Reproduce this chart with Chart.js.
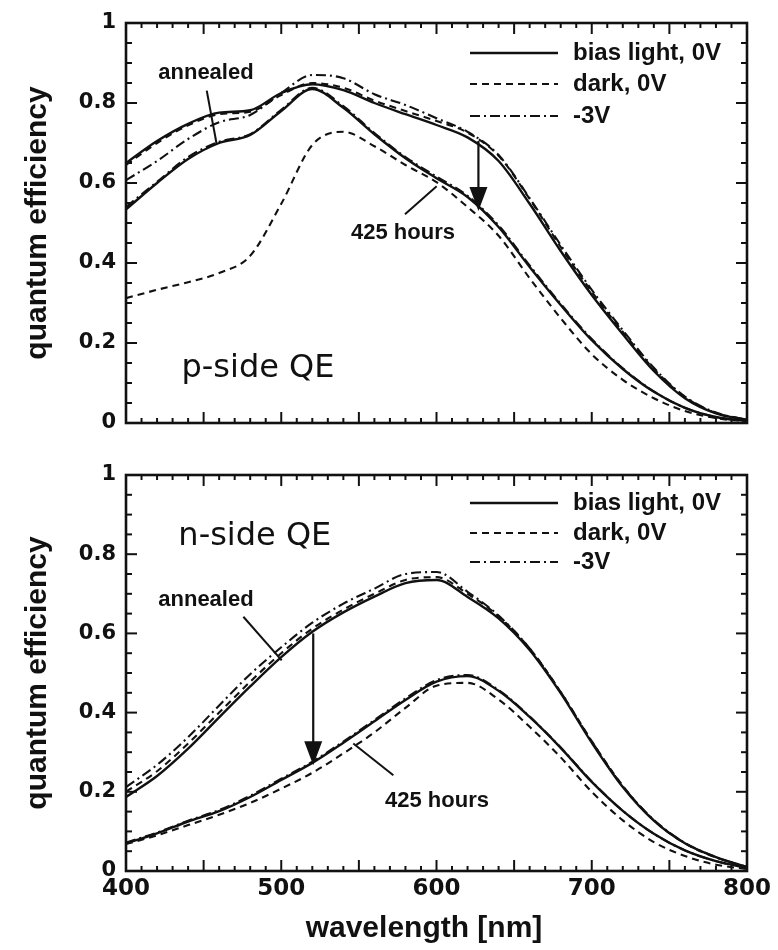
<!DOCTYPE html>
<html>
<head>
<meta charset="utf-8">
<script src="https://cdn.jsdelivr.net/npm/chart.js@4.4.0/dist/chart.umd.min.js"></script>
<style>
  html, body { margin: 0; padding: 0; background: #fff; }
  #wrap { position: relative; width: 778px; height: 950px; }
  .panel { position: absolute; left: 0; width: 778px; }
  #top { top: 0; height: 450px; }
  #bot { top: 450px; height: 500px; }
</style>
</head>
<body>
<div id="wrap">
  <div class="panel" id="top"><canvas id="pside"></canvas></div>
  <div class="panel" id="bot"><canvas id="nside"></canvas></div>
</div>
<script>
// wavelength grid (nm)
const wavelengths = [400, 420, 440, 460, 480, 500, 520, 540, 560, 580, 600,
                     620, 640, 660, 680, 700, 720, 740, 760, 780, 800];
const xTicks = [400, 500, 600, 700, 800];
const yTicks = [0, 0.2, 0.4, 0.6, 0.8, 1];

// p-side QE, annealed
const pAnnealedBias = [0.650, 0.705, 0.748, 0.776, 0.782, 0.825, 0.847, 0.832, 0.800, 0.772, 0.745,
                       0.714, 0.655, 0.548, 0.430, 0.320, 0.222, 0.130, 0.062, 0.024, 0.008];
const pAnnealedDark = [0.645, 0.700, 0.744, 0.772, 0.778, 0.820, 0.850, 0.838, 0.806, 0.780, 0.755,
                       0.726, 0.668, 0.560, 0.440, 0.328, 0.228, 0.135, 0.065, 0.025, 0.008];
const pAnnealedRev = [0.607, 0.655, 0.710, 0.752, 0.770, 0.825, 0.870, 0.862, 0.822, 0.795, 0.762,
                      0.728, 0.670, 0.562, 0.445, 0.333, 0.232, 0.138, 0.066, 0.026, 0.008];
// p-side QE, after 425 hours
const pAgedBias = [0.534, 0.600, 0.660, 0.700, 0.720, 0.780, 0.835, 0.788, 0.722, 0.662, 0.612,
                   0.565, 0.490, 0.390, 0.295, 0.207, 0.135, 0.078, 0.038, 0.015, 0.005];
const pAgedDark = [0.312, 0.333, 0.352, 0.375, 0.418, 0.548, 0.695, 0.728, 0.692, 0.645, 0.602,
                   0.540, 0.468, 0.362, 0.262, 0.172, 0.108, 0.062, 0.030, 0.012, 0.004];
const pAgedRev = [0.540, 0.603, 0.665, 0.703, 0.722, 0.783, 0.838, 0.792, 0.725, 0.665, 0.616,
                  0.568, 0.494, 0.394, 0.298, 0.210, 0.137, 0.079, 0.038, 0.015, 0.005];

// n-side QE, annealed
const nAnnealedBias = [0.187, 0.240, 0.309, 0.388, 0.466, 0.540, 0.604, 0.653, 0.693, 0.727, 0.735,
                       0.692, 0.638, 0.558, 0.449, 0.324, 0.212, 0.127, 0.070, 0.035, 0.010];
const nAnnealedDark = [0.200, 0.252, 0.322, 0.400, 0.478, 0.550, 0.612, 0.660, 0.700, 0.735, 0.742,
                       0.700, 0.643, 0.562, 0.452, 0.328, 0.215, 0.128, 0.070, 0.034, 0.010];
const nAnnealedRev = [0.212, 0.268, 0.338, 0.418, 0.497, 0.565, 0.627, 0.675, 0.713, 0.750, 0.755,
                      0.705, 0.645, 0.562, 0.452, 0.327, 0.214, 0.129, 0.071, 0.035, 0.010];
// n-side QE, after 425 hours
const nAgedBias = [0.070, 0.095, 0.125, 0.151, 0.187, 0.230, 0.273, 0.324, 0.378, 0.432, 0.478,
                   0.492, 0.455, 0.389, 0.311, 0.225, 0.152, 0.094, 0.052, 0.025, 0.008];
const nAgedDark = [0.068, 0.090, 0.116, 0.142, 0.172, 0.208, 0.248, 0.297, 0.350, 0.412, 0.468,
                   0.475, 0.433, 0.364, 0.287, 0.200, 0.128, 0.073, 0.038, 0.016, 0.005];
const nAgedRev = [0.072, 0.097, 0.127, 0.154, 0.190, 0.233, 0.276, 0.327, 0.381, 0.436, 0.482,
                  0.495, 0.457, 0.390, 0.312, 0.226, 0.152, 0.094, 0.052, 0.025, 0.008];

const seriesNames = ['bias light, 0V', 'dark, 0V', '-3V'];

const ink = '#111';
const dashed = [7, 5];
const dashDot = [10, 4, 2, 4];
const styles = [
  { dash: [], width: 2.4 },
  { dash: dashed, width: 2.1 },
  { dash: dashDot, width: 2.1 }
];

const pts = vals => wavelengths.map((x, i) => ({ x, y: vals[i] }));

function lineSet(label, vals, st) {
  return {
    label,
    data: pts(vals),
    borderColor: ink,
    borderWidth: st.width,
    borderDash: st.dash,
    pointRadius: 0,
    fill: false,
    cubicInterpolationMode: 'monotone'
  };
}

// draws frame, inward ticks, legend, panel label and annotations
const decor = {
  id: 'decor',
  afterDatasetsDraw(chart, args, o) {
    const { ctx, chartArea: a, scales: { x, y } } = chart;
    const seg = (x1, y1, x2, y2) => { ctx.beginPath(); ctx.moveTo(x1, y1); ctx.lineTo(x2, y2); ctx.stroke(); };
    ctx.save();
    ctx.strokeStyle = ink;
    ctx.fillStyle = ink;
    ctx.lineWidth = 2;
    for (let w = 400; w <= 800; w += 10) {
      const px = x.getPixelForValue(w);
      const len = w % 50 === 0 ? 11 : 5;
      seg(px, a.bottom, px, a.bottom - len);
      seg(px, a.top, px, a.top + len);
    }
    for (let k = 0; k <= 20; k++) {
      const py = y.getPixelForValue(k * 0.05);
      const len = k % 4 === 0 ? 11 : 6;
      seg(a.left, py, a.left + len, py);
      seg(a.right, py, a.right - len, py);
    }
    ctx.lineWidth = 2.6;
    ctx.strokeRect(a.left, a.top, a.width, a.height);

    // legend
    ctx.font = 'bold 24px "Liberation Sans", Arial, sans-serif';
    ctx.textBaseline = 'middle';
    ctx.textAlign = 'left';
    o.legendRows.forEach((ry, i) => {
      const yy = a.top + ry;
      ctx.lineWidth = styles[i].width;
      ctx.setLineDash(styles[i].dash);
      seg(a.left + 344, yy, a.left + 432, yy);
      ctx.setLineDash([]);
      ctx.fillText(seriesNames[i], a.left + 447, yy);
    });

    // panel label
    ctx.font = '32px "DejaVu Sans", sans-serif';
    ctx.textAlign = 'center';
    ctx.fillText(o.panel.text, x.getPixelForValue(o.panel.x), y.getPixelForValue(o.panel.y));

    // annotations
    ctx.font = 'bold 22px "Liberation Sans", Arial, sans-serif';
    ctx.lineWidth = 2;
    o.notes.forEach(n => {
      ctx.fillText(n.text, x.getPixelForValue(n.x), y.getPixelForValue(n.y));
      seg(x.getPixelForValue(n.from[0]), y.getPixelForValue(n.from[1]),
          x.getPixelForValue(n.to[0]), y.getPixelForValue(n.to[1]));
    });

    // arrow
    const ax = x.getPixelForValue(o.arrow.x);
    const ay1 = y.getPixelForValue(o.arrow.from);
    const ay2 = y.getPixelForValue(o.arrow.to);
    ctx.lineWidth = 2.2;
    seg(ax, ay1, ax, ay2 - 20);
    ctx.beginPath();
    ctx.moveTo(ax - 9, ay2 - 24);
    ctx.lineTo(ax + 9, ay2 - 24);
    ctx.lineTo(ax, ay2);
    ctx.closePath();
    ctx.fill();
    ctx.restore();
  }
};

function makeChart(id, sets, showX, deco) {
  return new Chart(document.getElementById(id), {
    type: 'line',
    data: { datasets: sets },
    plugins: [decor],
    options: {
      responsive: true,
      maintainAspectRatio: false,
      animation: false,
      events: [],
      layout: { padding: { top: deco.padTop, right: 31, left: 0, bottom: 0 } },
      plugins: { legend: { display: false }, tooltip: { enabled: false }, decor: deco },
      scales: {
        x: {
          type: 'linear',
          min: 400,
          max: 800,
          afterBuildTicks: s => { s.ticks = xTicks.map(v => ({ value: v })); },
          afterFit: s => { s.height = showX ? 79 : 27; },
          grid: { display: false, drawTicks: false },
          border: { display: false },
          ticks: {
            display: showX,
            padding: 4,
            color: ink,
            font: { family: '"DejaVu Sans", sans-serif', size: 23, weight: 'bold' }
          },
          title: {
            display: showX,
            // trailing spaces nudge the centred title a little to the left, as in the original
            text: 'wavelength [nm]\u00a0\u00a0\u00a0',
            color: ink,
            padding: { top: 0, bottom: 3 },
            font: { family: '"Liberation Sans", Arial, sans-serif', size: 30, weight: 'bold' }
          }
        },
        y: {
          min: 0,
          max: 1,
          afterBuildTicks: s => { s.ticks = yTicks.map(v => ({ value: v })); },
          afterFit: s => { s.width = 126; },
          grid: { display: false, drawTicks: false },
          border: { display: false },
          ticks: {
            padding: 10,
            color: ink,
            font: { family: '"DejaVu Sans", sans-serif', size: 21, weight: 'bold' },
            callback: v => (v === 0 || v === 1) ? String(v) : v.toFixed(1)
          },
          title: {
            display: true,
            text: 'quantum efficiency',
            color: ink,
            padding: { top: 20, bottom: 0 },
            font: { family: '"Liberation Sans", Arial, sans-serif', size: 30, weight: 'bold' }
          }
        }
      }
    }
  });
}

makeChart('pside', [
  lineSet(seriesNames[1], pAnnealedDark, styles[1]),
  lineSet(seriesNames[2], pAnnealedRev, styles[2]),
  lineSet(seriesNames[1], pAgedDark, styles[1]),
  lineSet(seriesNames[2], pAgedRev, styles[2]),
  lineSet(seriesNames[0], pAnnealedBias, styles[0]),
  lineSet(seriesNames[0], pAgedBias, styles[0])
], false, {
  padTop: 23,
  legendRows: [30, 61, 93],
  panel: { text: 'p-side QE', x: 485, y: 0.137 },
  notes: [
    { text: 'annealed', x: 451.5, y: 0.874, from: [452, 0.831], to: [458.4, 0.697] },
    { text: '425 hours', x: 578.4, y: 0.474, from: [579.7, 0.522], to: [600.1, 0.592] }
  ],
  arrow: { x: 627, from: 0.705, to: 0.53 }
});

makeChart('nside', [
  lineSet(seriesNames[1], nAnnealedDark, styles[1]),
  lineSet(seriesNames[2], nAnnealedRev, styles[2]),
  lineSet(seriesNames[1], nAgedDark, styles[1]),
  lineSet(seriesNames[2], nAgedRev, styles[2]),
  lineSet(seriesNames[0], nAnnealedBias, styles[0]),
  lineSet(seriesNames[0], nAgedBias, styles[0])
], true, {
  padTop: 25,
  legendRows: [28, 58, 87],
  panel: { text: 'n-side QE', x: 483, y: 0.843 },
  notes: [
    { text: 'annealed', x: 451.5, y: 0.684, from: [475.6, 0.642], to: [500.3, 0.532] },
    { text: '425 hours', x: 600.3, y: 0.176, from: [572.2, 0.242], to: [546.4, 0.322] }
  ],
  arrow: { x: 520.6, from: 0.60, to: 0.267 }
});
</script>
</body>
</html>
